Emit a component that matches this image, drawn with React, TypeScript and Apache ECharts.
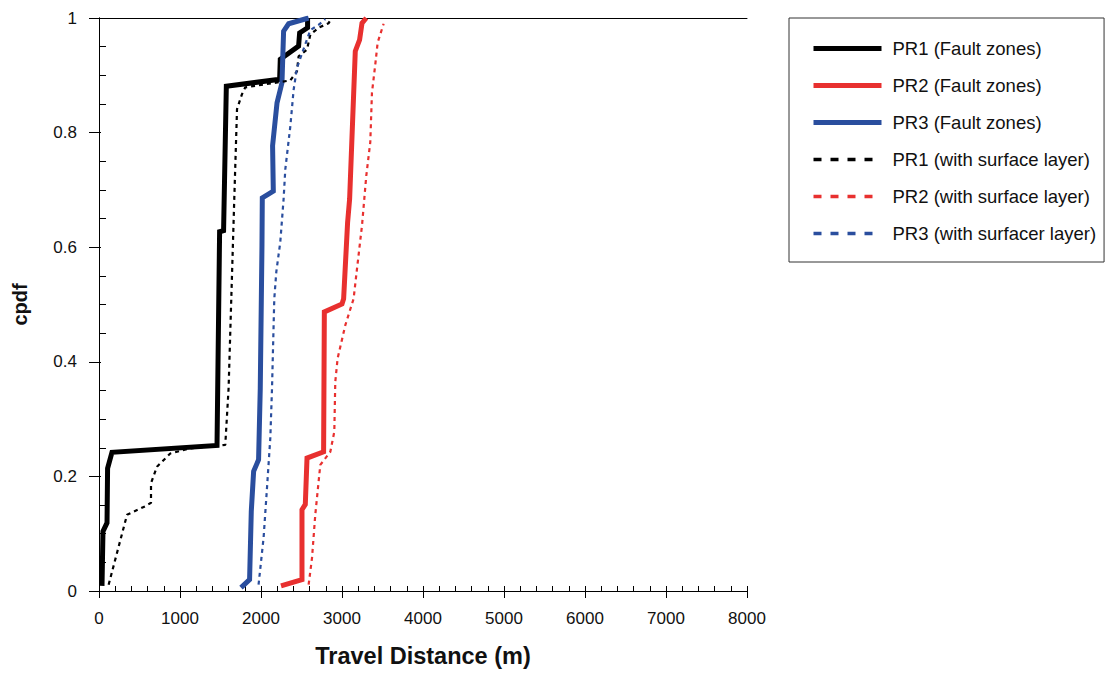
import React, { useEffect, useRef } from 'react';
import * as echarts from 'echarts';

const FONT = '"Liberation Sans", Arial, sans-serif';

const xMin = 0;
const xMax = 8000;
const xInterval = 1000;
const yMin = 0;
const yMax = 1;
const yInterval = 0.2;

const seriesNames = [
  'PR1 (Fault zones)',
  'PR2 (Fault zones)',
  'PR3 (Fault zones)',
  'PR1 (with surface layer)',
  'PR2 (with surface layer)',
  'PR3 (with surfacer layer)',
];

const pr1Fault: [number, number][] = [
  [37, 0.009], [49, 0.104], [99, 0.119], [106, 0.214], [160, 0.242], [1457, 0.254],
  [1489, 0.627], [1538, 0.629], [1572, 0.881], [2230, 0.893], [2238, 0.928],
  [2464, 0.951], [2477, 0.974], [2575, 0.983], [2575, 1.0],
];

const pr2Fault: [number, number][] = [
  [2247, 0.009], [2506, 0.02], [2506, 0.142], [2547, 0.151], [2568, 0.232], [2773, 0.243],
  [2782, 0.487], [3000, 0.501], [3020, 0.51], [3069, 0.643], [3094, 0.684], [3164, 0.942],
  [3217, 0.962], [3247, 0.991], [3300, 1.0],
];

const pr3Fault: [number, number][] = [
  [1753, 0.006], [1859, 0.02], [1880, 0.139], [1909, 0.209], [1970, 0.229], [1991, 0.354],
  [2012, 0.603], [2016, 0.686], [2152, 0.698], [2143, 0.777], [2198, 0.852], [2259, 0.887],
  [2279, 0.977], [2341, 0.99], [2588, 1.0],
];

const pr1Surface: [number, number][] = [
  [119, 0.011], [346, 0.133], [572, 0.148], [642, 0.154], [642, 0.188], [716, 0.217],
  [880, 0.24], [1127, 0.249], [1559, 0.255], [1600, 0.354], [1670, 0.684], [1704, 0.841],
  [1765, 0.867], [1806, 0.879], [2362, 0.891], [2444, 0.907], [2464, 0.933], [2568, 0.945],
  [2609, 0.971], [2711, 0.983], [2835, 0.991], [2868, 0.999],
];

const pr2Surface: [number, number][] = [
  [2588, 0.011], [2630, 0.058], [2670, 0.133], [2732, 0.22], [2856, 0.243], [2905, 0.278],
  [2917, 0.365], [2946, 0.406], [3041, 0.464], [3143, 0.51], [3185, 0.562], [3247, 0.638],
  [3300, 0.725], [3349, 0.783], [3370, 0.87], [3411, 0.919], [3440, 0.957], [3514, 0.99],
];

const pr3Surface: [number, number][] = [
  [1970, 0.011], [2032, 0.093], [2074, 0.18], [2115, 0.267], [2136, 0.354], [2164, 0.51],
  [2189, 0.557], [2238, 0.609], [2279, 0.684], [2300, 0.736], [2362, 0.811], [2403, 0.875],
  [2444, 0.913], [2609, 0.979], [2711, 0.988], [2794, 0.998],
];

const BLACK = '#000000';
const RED = '#e8302f';
const BLUE = '#2a4e9e';

const seriesData = [pr1Fault, pr2Fault, pr3Fault, pr1Surface, pr2Surface, pr3Surface];
const seriesColors = [BLACK, RED, BLUE, BLACK, RED, BLUE];
const seriesDashed = [false, false, false, true, true, true];

const axisLineStyle = { color: '#000', width: 1 };

function buildOption(): any {
  const baseX = { type: 'value', min: xMin, max: xMax, interval: xInterval, splitLine: { show: false } };
  const baseY = { type: 'value', min: yMin, max: yMax, interval: yInterval, splitLine: { show: false } };
  return {
    animation: false,
    backgroundColor: '#ffffff',
    grid: { left: 99, top: 18, right: 360, bottom: 80, containLabel: false },
    legend: {
      orient: 'vertical',
      left: 789,
      top: 18,
      padding: [21, 8, 19, 22],
      itemWidth: 68,
      itemHeight: 14,
      itemGap: 18,
      borderColor: '#333',
      borderWidth: 1,
      selectedMode: false,
      itemStyle: { opacity: 0 },
      textStyle: { fontSize: 18.5, color: '#111', fontFamily: FONT, padding: [0, 0, 0, 6] },
      data: seriesNames.map((name, i) => ({
        name,
        itemStyle: { opacity: 0 },
        lineStyle: seriesDashed[i]
          ? { color: seriesColors[i], width: 3.5, type: [8, 9] }
          : { color: seriesColors[i], width: 5, type: 'solid' },
      })),
    },
    xAxis: [
      {
        ...baseX,
        position: 'bottom',
        axisLine: { show: true, lineStyle: axisLineStyle },
        axisTick: { show: true, inside: true, length: 5, lineStyle: axisLineStyle },
        minorTick: { show: true, splitNumber: 5, length: 5, lineStyle: axisLineStyle },
        axisLabel: { show: false },
      },
      {
        ...baseX,
        position: 'bottom',
        axisLine: { show: true, lineStyle: axisLineStyle },
        axisTick: { show: true, inside: false, length: 7, lineStyle: axisLineStyle },
        axisLabel: {
          show: true, margin: 19, fontSize: 17, color: '#111', fontFamily: FONT,
          formatter: (v: number) => String(v),
        },
        name: 'Travel Distance (m)',
        nameLocation: 'middle',
        nameGap: 53,
        nameTextStyle: { fontSize: 23.5, fontWeight: 'bold', color: '#111', fontFamily: FONT },
      },
      {
        ...baseX,
        position: 'top',
        axisLine: { show: true, lineStyle: axisLineStyle },
        axisTick: { show: false },
        axisLabel: { show: false },
      },
    ],
    yAxis: [
      {
        ...baseY,
        position: 'left',
        axisLine: { show: true, lineStyle: axisLineStyle },
        axisTick: { show: true, inside: true, length: 2, lineStyle: axisLineStyle },
        minorTick: { show: true, splitNumber: 4, length: 7, lineStyle: axisLineStyle },
        axisLabel: { show: false },
      },
      {
        ...baseY,
        position: 'left',
        axisLine: { show: true, lineStyle: axisLineStyle },
        axisTick: { show: true, inside: false, length: 10, lineStyle: axisLineStyle },
        axisLabel: { show: true, margin: 22, fontSize: 17, color: '#111', fontFamily: FONT },
        name: 'cpdf',
        nameLocation: 'middle',
        nameGap: 69,
        nameTextStyle: { fontSize: 20, fontWeight: 'bold', color: '#111', fontFamily: FONT },
      },
    ],
    series: seriesNames.map((name, i) => ({
      name,
      type: 'line',
      xAxisIndex: 0,
      yAxisIndex: 0,
      data: seriesData[i],
      symbol: 'none',
      showSymbol: false,
      silent: true,
      lineStyle: seriesDashed[i]
        ? { color: seriesColors[i], width: 2.2, type: [4, 4] }
        : { color: seriesColors[i], width: 5, type: 'solid', join: 'miter' },
      itemStyle: { color: seriesColors[i] },
    })),
  };
}

export default function App() {
  const ref = useRef<HTMLDivElement>(null);
  useEffect(() => {
    if (!ref.current) return;
    const chart = echarts.init(ref.current, null, { renderer: 'svg' });
    chart.setOption(buildOption());
    return () => chart.dispose();
  }, []);
  return (
    <div
      ref={ref}
      style={{ position: 'fixed', left: 0, top: 0, width: 1107, height: 673, background: '#fff' }}
    />
  );
}
